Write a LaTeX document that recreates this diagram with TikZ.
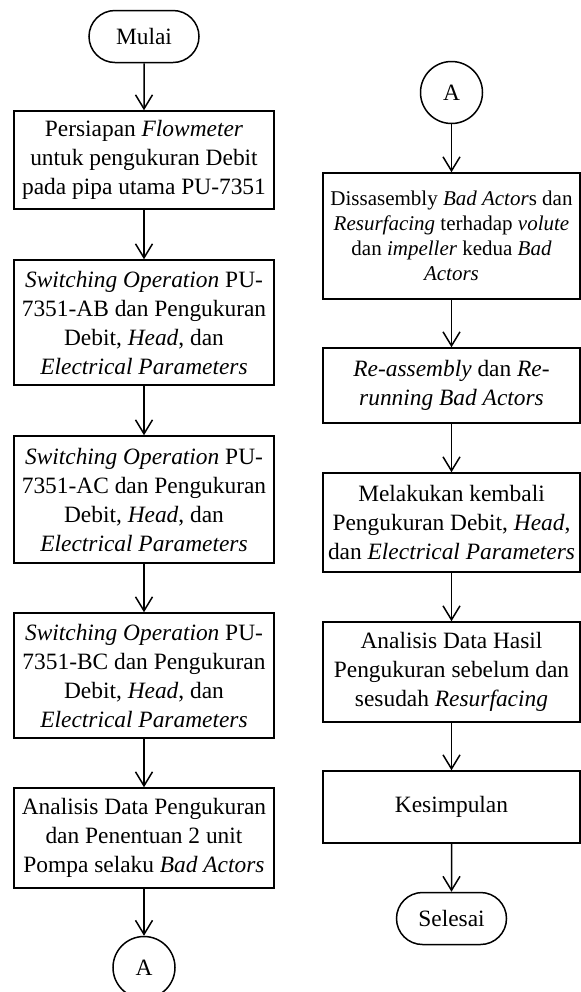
\documentclass[tikz,border=0pt]{standalone}
\usepackage{fontspec}
\setmainfont{Liberation Serif}
\usepackage{tikz}
\usetikzlibrary{arrows.meta, positioning, shapes.misc}

\begin{document}
\begin{tikzpicture}[
  x=0.5pt, y=-0.5pt,
  >={Straight Barb[length=7pt, width=8.5pt, line width=0.75pt]},
  line width=0.75pt,
  stepbox/.style={
    rectangle, draw, minimum width=#1,
    align=center, inner sep=1pt, font=\fontsize{11.7}{14.5}\selectfont
  },
  stepbox/.default=130pt,
  terminal/.style={
    rounded rectangle, draw, minimum width=59pt, minimum height=26pt,
    inner sep=2pt, font=\fontsize{11.7}{14.5}\selectfont
  },
  connector/.style={
    circle, draw, minimum size=31pt, inner sep=0pt,
    font=\fontsize{11.7}{14.5}\selectfont
  },
  flow/.style={->},
]

\useasboundingbox (0,0) rectangle (581,992);

\def\colL{144}
\def\colR{451.5}

% left column
\node[terminal] (mulai) at (\colL, 36.5) {Mulai};
\node[stepbox, minimum height=49pt] (persiapan) at (\colL, 160)
  {Persiapan \textit{Flowmeter}\\untuk pengukuran Debit\\pada pipa utama PU-7351};
\node[stepbox, minimum height=62.5pt] (swAB) at (\colL, 322.5)
  {\textit{Switching Operation} PU-\\7351-AB dan Pengukuran\\Debit, \textit{Head}, dan\\\textit{Electrical Parameters}};
\node[stepbox, minimum height=63.5pt] (swAC) at (\colL, 499.5)
  {\textit{Switching Operation} PU-\\7351-AC dan Pengukuran\\Debit, \textit{Head}, dan\\\textit{Electrical Parameters}};
\node[stepbox, minimum height=62.5pt] (swBC) at (\colL, 675.5)
  {\textit{Switching Operation} PU-\\7351-BC dan Pengukuran\\Debit, \textit{Head}, dan\\\textit{Electrical Parameters}};
\node[stepbox, minimum height=50pt] (analisis) at (\colL, 838)
  {Analisis Data Pengukuran\\dan Penentuan 2 unit\\Pompa selaku \textit{Bad Actors}};
\node[connector] (offA) at (\colL, 967.5) {A};

% right column
\node[connector] (onA) at (\colR, 92.5) {A};
\node[stepbox=128.5pt, minimum height=63pt, font=\fontsize{10.5}{12.5}\selectfont] (disas) at (\colR, 236)
  {Dissasembly \textit{Bad Actor}s dan\\\textit{Resurfacing} terhadap \textit{volute}\\dan \textit{impeller} kedua \textit{Bad}\\\textit{Actors}};
\node[stepbox=128.5pt, minimum height=37.5pt] (reasm) at (\colR, 385.5)
  {\textit{Re-assembly} dan \textit{Re-}\\\textit{running Bad Actors}};
\node[stepbox=128.5pt, minimum height=49.5pt] (ulang) at (\colR, 522.5)
  {Melakukan kembali\\Pengukuran Debit, \textit{Head},\\dan \textit{Electrical Parameters}};
\node[stepbox=128.5pt, minimum height=50pt] (hasil) at (\colR, 672)
  {Analisis Data Hasil\\Pengukuran sebelum dan\\sesudah \textit{Resurfacing}};
\node[stepbox=128.5pt, minimum height=36pt] (simpul) at (\colR, 807)
  {Kesimpulan};
\node[terminal] (selesai) at (\colR, 918.5) {Selesai};

% connectors
\draw[flow] (mulai) -- (persiapan);
\draw[flow] (persiapan) -- (swAB);
\draw[flow] (swAB) -- (swAC);
\draw[flow] (swAC) -- (swBC);
\draw[flow] (swBC) -- (analisis);
\draw[flow] (analisis) -- (offA);

\draw[flow] (onA) -- (disas);
\draw[flow] (disas) -- (reasm);
\draw[flow] (reasm) -- (ulang);
\draw[flow] (ulang) -- (hasil);
\draw[flow] (hasil) -- (simpul);
\draw[flow] (simpul) -- (selesai);

\end{tikzpicture}
\end{document}
